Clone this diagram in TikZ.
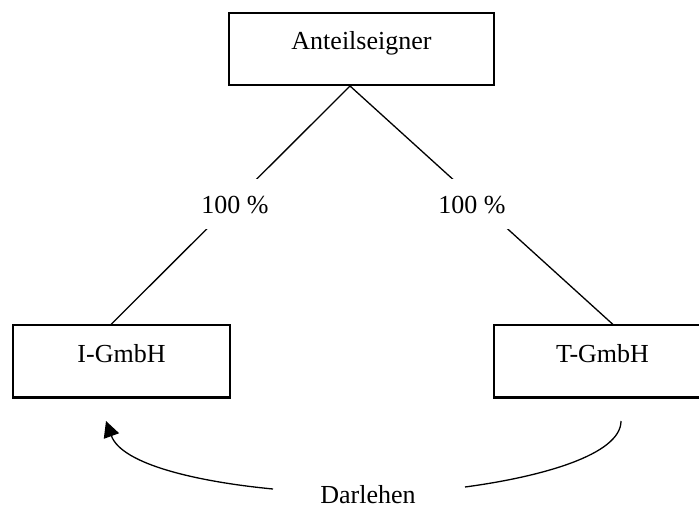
\documentclass[tikz,border=0pt]{standalone}
\usepackage{fontspec}
\setmainfont{Liberation Serif}
\usetikzlibrary{arrows.meta}

\begin{document}
\begin{tikzpicture}[x=0.5pt, y=-0.5pt,
  every node/.style={font=\fontsize{13}{15}\selectfont},
  box/.style={draw, line width=1pt, minimum height=36pt, inner sep=0pt,
    text height=8pt, text depth=7pt},
  share/.style={fill=white, minimum width=38pt, minimum height=25pt,
    inner sep=0pt, text height=10pt, text depth=0pt},
  link/.style={line width=0.65pt}]
  \useasboundingbox (0, 0) rectangle (699, 506);
  \node[box, minimum width=132.5pt] (owner) at (361.5, 49) {Anteilseigner};
  \node[box, minimum width=108.5pt] (igmbh) at (121.5, 361.5) {I-GmbH};
  \node[box, minimum width=108.5pt] (tgmbh) at (602.5, 361.5) {T-GmbH};
  \draw[link]
  ([xshift=-5.75pt]owner.south) -- ([xshift=-5.25pt]igmbh.north)
  ([xshift=-5.75pt]owner.south) -- ([xshift=5.25pt]tgmbh.north);
  \node[share] (ishare) at (235, 204) {100 \%};
  \node[share] (tshare) at (472, 204) {100 \%};
  % loan from T-GmbH to I-GmbH
  \node[anchor=base] (loan) at (368, 503) {Darlehen};
  \coordinate (from) at (621, 421);
  \coordinate (rgap) at (465, 487);
  \coordinate (lgap) at (273, 489);
  \coordinate (to) at (106, 421);
  \draw[link] (from) .. controls (621, 455) and (540, 477) .. (rgap);
  \draw[link, -{Triangle[length=8pt, width=8pt]}]
  (lgap) .. controls (200, 482) and (122, 465) .. (to);
\end{tikzpicture}
\end{document}
